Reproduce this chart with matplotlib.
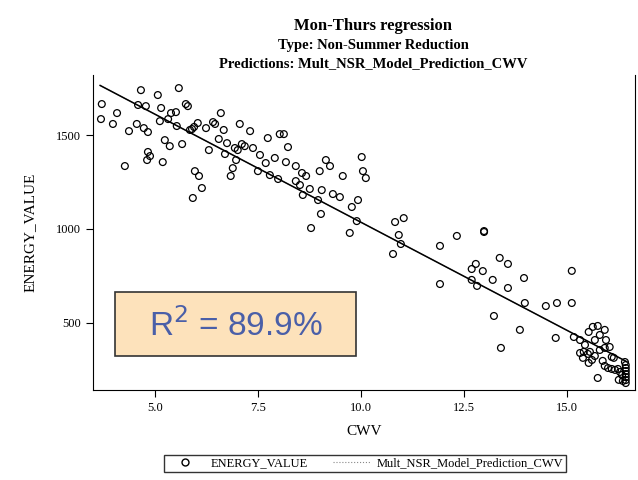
import numpy as np
import matplotlib.pyplot as plt
from matplotlib.lines import Line2D
from matplotlib.patches import Rectangle

plt.rcParams['font.family'] = ['Liberation Serif', 'DejaVu Serif']

#-------------------------------------------------------
cwv = [3.69, 3.71, 3.98, 4.08, 4.27, 4.37, 4.56, 4.66, 4.59, 4.73, 4.78, 4.81, 4.83, 4.83, 4.88,
       5.07, 5.12, 5.15, 5.19, 5.24, 5.32, 5.39, 5.36, 5.51, 5.53, 5.58, 5.66, 5.75, 5.80, 5.85,
       5.90, 5.92, 5.95, 5.97, 6.04, 6.07, 6.14, 6.24, 6.31, 6.41, 6.46, 6.55, 6.60, 6.67, 6.70,
       6.75, 6.84, 6.89, 6.94, 6.97, 7.01, 7.06, 7.11, 7.18, 7.31, 7.38, 7.50, 7.55, 7.69, 7.74,
       7.79, 7.91, 7.99, 8.03, 8.13, 8.18, 8.23, 8.42, 8.42, 8.52, 8.57, 8.59, 8.67, 8.76, 8.79,
       8.96, 9.00, 9.03, 9.05, 9.15, 9.25, 9.32, 9.49, 9.56, 9.73, 9.78, 9.90, 9.93, 10.02, 10.05,
       10.12, 10.83, 11.04, 10.92, 10.97, 10.78, 11.92, 11.92, 12.33, 12.99, 12.99, 12.69, 12.79,
       12.96, 12.69, 12.82, 13.20, 13.37, 13.57, 13.57, 13.96, 13.98, 13.23, 13.86, 13.40, 14.49,
       14.73, 14.76, 15.12, 15.12, 15.17, 15.53, 15.51, 15.32, 15.44, 15.56, 15.68, 15.80, 15.92,
       15.75, 15.63, 15.92, 15.95, 16.04, 16.09, 15.75, 15.92, 16.00, 16.09, 16.17, 16.24, 16.29,
       16.34, 16.41, 16.43, 16.43, 16.43, 16.43, 16.43, 16.43, 16.43, 16.36, 16.26, 16.14, 15.87,
       15.61, 15.53, 15.41, 15.32, 15.39, 15.80, 15.68]
energy = [1585, 1665, 1559, 1617, 1335, 1521, 1559, 1739, 1660, 1537, 1654, 1367, 1410, 1516, 1388,
          1713, 1574, 1644, 1356, 1473, 1585, 1617, 1441, 1622, 1548, 1750, 1452, 1665, 1654, 1527,
          1532, 1165, 1543, 1308, 1564, 1282, 1218, 1537, 1420, 1569, 1559, 1479, 1617, 1527, 1399,
          1457, 1282, 1324, 1431, 1367, 1420, 1559, 1452, 1441, 1521, 1431, 1308, 1394, 1351, 1484,
          1287, 1378, 1266, 1505, 1505, 1356, 1436, 1255, 1335, 1234, 1298, 1181, 1282, 1213, 1005,
          1154, 1308, 1080, 1207, 1367, 1335, 1186, 1170, 1282, 979, 1117, 1042, 1154, 1383, 1308,
          1271, 1037, 1058, 968, 920, 867, 910, 707, 963, 984, 989, 787, 814,
          776, 729, 697, 729, 846, 814, 686, 739, 606, 537, 463, 367, 590,
          420, 606, 777, 606, 425, 452, 335, 409, 383, 346, 324, 356, 367,
          484, 479, 463, 409, 372, 319, 207, 271, 260, 255, 250, 255, 239,
          223, 292, 276, 260, 244, 228, 212, 196, 180, 191, 197, 314, 298,
          303, 287, 346, 340, 314, 436, 409]
line_x = [3.67, 16.45]
intercept = 2186
slope = -115
#-------------------------------------------------------

fig = plt.figure(figsize=(6.38, 4.8), dpi=100)
ax = fig.add_axes([0.146, 0.1875, 0.849, 0.656])

pred = [intercept + slope * x for x in line_x]
ax.plot(line_x, pred, color='#999999', lw=0.8, zorder=2)
ax.plot(line_x, pred, color='black', lw=1.1, zorder=2)
ax.scatter(cwv, energy, s=24, facecolors='none', edgecolors='black', linewidths=0.9, zorder=3)

ax.set_xlim(3.5, 16.65)
ax.set_ylim(143, 1819)
ax.set_xticks([5.0, 7.5, 10.0, 12.5, 15.0])
ax.set_xticklabels(['5.0', '7.5', '10.0', '12.5', '15.0'])
ax.set_yticks([500, 1000, 1500])
ax.tick_params(labelsize=9, length=5, direction='out')
ax.spines['top'].set_visible(False)
ax.set_xlabel('CWV', fontsize=11, labelpad=8)
ax.set_ylabel('ENERGY_VALUE', fontsize=11, labelpad=14)

fig.text(0.585, 0.938, 'Mon-Thurs regression', ha='center', fontsize=12, weight='bold')
fig.text(0.585, 0.898, 'Type: Non-Summer Reduction', ha='center', fontsize=10.5, weight='bold')
fig.text(0.585, 0.86, 'Predictions: Mult_NSR_Model_Prediction_CWV', ha='center', fontsize=10.5, weight='bold')

fig.patches.append(Rectangle((115 / 638, 1 - 356 / 480), 241 / 638, 64 / 480, transform=fig.transFigure,
                             facecolor='#fde2bb', edgecolor='#333333', lw=1.2))
fig.text(236 / 638, 1 - 326 / 480, 'R$^2$ = 89.9%', ha='center', va='center', fontsize=24, color='#4a5fa8',
         family=['Liberation Sans', 'DejaVu Sans'])

handles = [Line2D([], [], marker='o', ls='none', mfc='none', mec='black', ms=5),
           Line2D([], [], color='#888888', lw=0.8, ls=':')]
fig.legend(handles, ['ENERGY_VALUE', 'Mult_NSR_Model_Prediction_CWV'], loc='center',
           bbox_to_anchor=(0.572, 0.035), ncol=2, fontsize=9, frameon=True, fancybox=False,
           edgecolor='black', handlelength=3, columnspacing=2, borderpad=0.2, handletextpad=0.5)

fig.savefig('out.png', dpi=100)
